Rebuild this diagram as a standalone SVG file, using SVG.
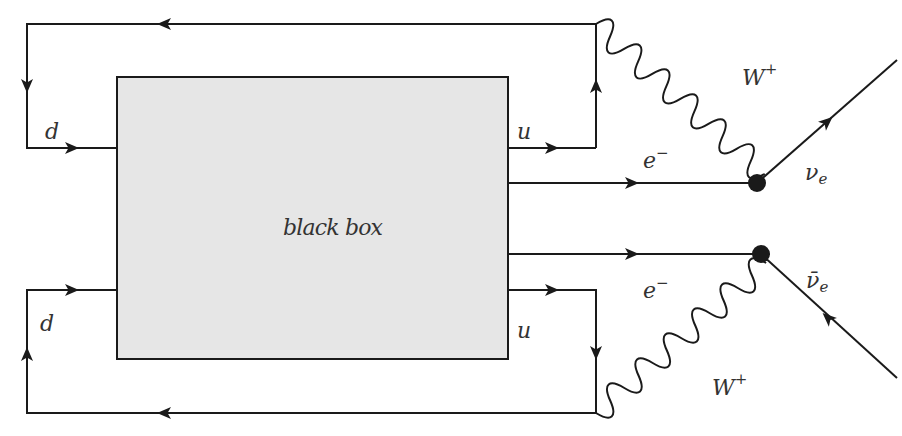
<svg xmlns="http://www.w3.org/2000/svg" width="902" height="436" viewBox="0 0 902 436">
<style>
.ln{fill:none;stroke:#1a1a1a;stroke-width:2;stroke-linecap:butt;stroke-linejoin:miter}
.wv{fill:none;stroke:#1a1a1a;stroke-width:2}
.ar{fill:#1a1a1a}
.t{font-family:'DejaVu Serif',serif;font-style:italic;font-size:22px;fill:#333}
.s{font-size:15px;font-style:normal}
.si{font-size:15px}
</style>
<defs>
<path id="arr" d="M6,0 L-8,-6 L-4.5,0 L-8,6 Z"/>
</defs>
<rect width="902" height="436" fill="#fff"/>
<g id="blackbox">
<rect x="117" y="77" width="391" height="282" fill="#e6e6e6" stroke="#1a1a1a" stroke-width="2"/>
<text class="t" x="283" y="235" textLength="100">black box</text>
</g>
<g id="connectors">
<path class="ln" d="M596,148 V24 H27 V148 H117"/>
<path class="ln" d="M508,148 H596"/>
<path class="ln" d="M508,183 H757"/>
<path class="ln" d="M508,254 H761"/>
<path class="ln" d="M508,290 H596 V413 H27 V290 H117"/>
<path class="ln" d="M757,183 L897,60"/>
<path class="ln" d="M761,254 L897,378"/>
<path class="wv" transform="translate(596,24) rotate(41.6)" d="M0,0 c5.3,-17.3 13.5,-17.3 18.8,0 s13.5,17.3 18.8,0 s13.5,-17.3 18.8,0 s13.5,17.3 18.8,0 s13.5,-17.3 18.8,0 s13.5,17.3 18.8,0 s13.5,-17.3 18.8,0 s13.5,17.3 18.8,0 s13.5,-17.3 18.8,0 s13.5,17.3 18.8,0 s13.5,-17.3 18.8,0 s13.5,17.3 18.8,0"/>
<path class="wv" transform="translate(596,413) rotate(-41.4)" d="M0,0 c5.3,17.3 13.6,17.3 18.9,0 s13.6,-17.3 18.9,0 s13.6,17.3 18.9,0 s13.6,-17.3 18.9,0 s13.6,17.3 18.9,0 s13.6,-17.3 18.9,0 s13.6,17.3 18.9,0 s13.6,-17.3 18.9,0 s13.6,17.3 18.9,0 s13.6,-17.3 18.9,0 s13.6,17.3 18.9,0 s13.6,-17.3 18.9,0"/>
<g class="ar">
<use href="#arr" transform="translate(163,24) rotate(180)"/>
<use href="#arr" transform="translate(27,87) rotate(90)"/>
<use href="#arr" transform="translate(73,148)"/>
<use href="#arr" transform="translate(553,148)"/>
<use href="#arr" transform="translate(596,85) rotate(-90)"/>
<use href="#arr" transform="translate(633,183)"/>
<use href="#arr" transform="translate(633,254)"/>
<use href="#arr" transform="translate(553,290)"/>
<use href="#arr" transform="translate(596,354) rotate(90)"/>
<use href="#arr" transform="translate(163,413) rotate(180)"/>
<use href="#arr" transform="translate(27,353) rotate(-90)"/>
<use href="#arr" transform="translate(73,290)"/>
<use href="#arr" transform="translate(828,121) rotate(-41.3)"/>
<use href="#arr" transform="translate(827,317) rotate(-137.6)"/>
</g>
</g>
<g id="vertex-top"><circle cx="757" cy="183" r="9" fill="#1a1a1a"/></g>
<g id="vertex-bottom"><circle cx="761" cy="254" r="9" fill="#1a1a1a"/></g>
<g id="labels">
<text class="t" x="45" y="139">d</text>
<text class="t" x="40" y="331">d</text>
<text class="t" x="517" y="139">u</text>
<text class="t" x="517" y="338">u</text>
<text class="t" x="643" y="168">e<tspan class="s" dy="-10">−</tspan></text>
<text class="t" x="643" y="298">e<tspan class="s" dy="-10">−</tspan></text>
<text class="t" x="742" y="85">W<tspan class="s" dy="-11">+</tspan></text>
<text class="t" x="712" y="395">W<tspan class="s" dy="-11">+</tspan></text>
<text class="t" x="805" y="180">ν<tspan class="si" dy="4">e</tspan></text>
<text class="t" x="806" y="288">ν̄<tspan class="si" dy="4">e</tspan></text>
</g>
</svg>
